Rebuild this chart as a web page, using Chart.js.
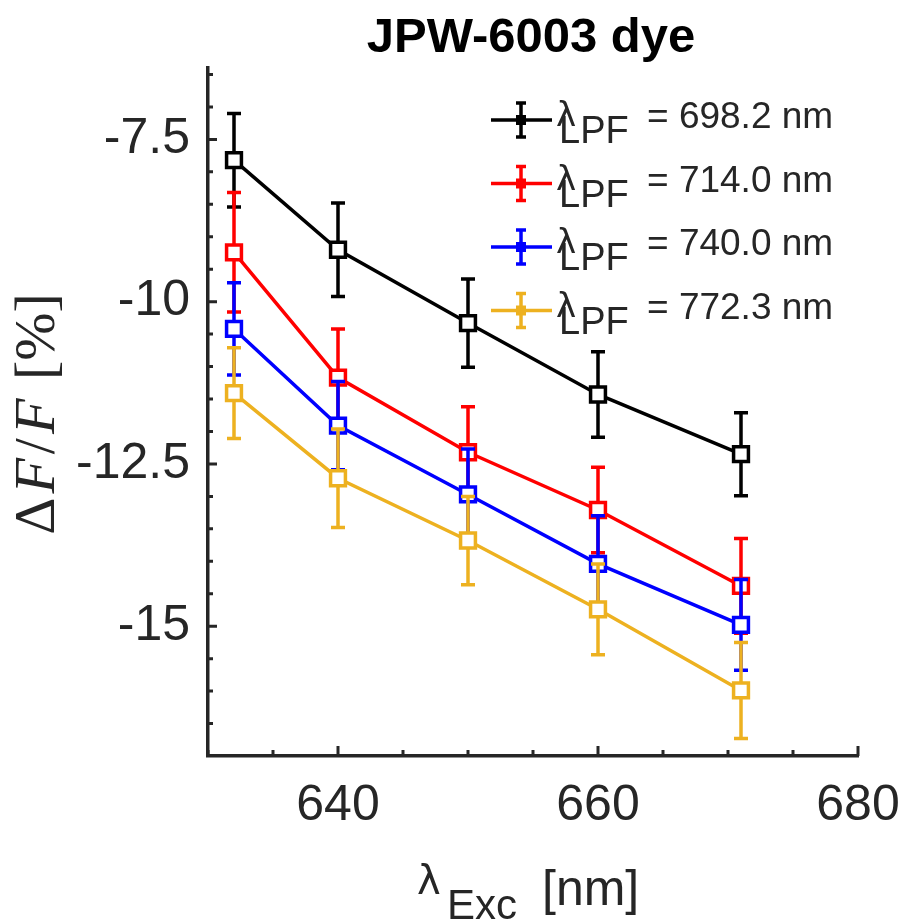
<!DOCTYPE html>
<html>
<head>
<meta charset="utf-8">
<script src="https://cdn.jsdelivr.net/npm/chart.js@4.4.1/dist/chart.umd.min.js"></script>
<style>
  html, body { margin: 0; padding: 0; background: #fff; }
</style>
</head>
<body>
<canvas id="chart" width="900" height="922"></canvas>
<script>
// excitation wavelengths (nm)
const excWavelengths = [632, 640, 650, 660, 671];

// dF/F (%) per long-pass filter, with error bar half-lengths
const lpf698 = [-7.82, -9.20, -10.33, -11.43, -12.35];
const lpf698Err = [0.72, 0.72, 0.68, 0.66, 0.64];
const lpf714 = [-9.24, -11.17, -12.32, -13.21, -14.38];
const lpf714Err = [0.92, 0.75, 0.70, 0.66, 0.73];
const lpf740 = [-10.42, -11.91, -12.97, -14.04, -14.98];
const lpf740Err = [0.71, 0.68, 0.70, 0.74, 0.70];
const lpf772 = [-11.41, -12.72, -13.68, -14.74, -15.99];
const lpf772Err = [0.70, 0.76, 0.68, 0.70, 0.74];

const legendValues = ['698.2', '714.0', '740.0', '772.3'];
const xTicks = [640, 660, 680];
const yTicks = [-15, -12.5, -10, -7.5];

const colors = ['#000000', '#ff0000', '#0000ff', '#edb120'];
const axisColor = '#262626';

const app = {};

app.makeDataset = (values, errors, i) => ({
    label: legendValues[i],
    data: values.map((v, k) => ({ x: excWavelengths[k], y: v })),
    errors: errors,
    borderColor: colors[i],
    backgroundColor: '#ffffff',
    borderWidth: 3.5,
    pointStyle: 'rect',
    pointRadius: 10.5,
    pointBorderWidth: 3.5,
    pointBackgroundColor: '#ffffff',
    tension: 0,
    // later series sit on top, like the original
    order: 4 - i
});

// vertical error bars, drawn under each series' line and markers
const errorBars = {
    id: 'errorBars',
    beforeDatasetDraw(chart, args) {
        const ds = chart.data.datasets[args.index];
        const ctx = chart.ctx;
        const xs = chart.scales.x;
        const ys = chart.scales.y;
        ctx.save();
        ctx.strokeStyle = ds.borderColor;
        ctx.lineWidth = 3.5;
        ds.data.forEach((p, k) => {
            const px = xs.getPixelForValue(p.x);
            const top = ys.getPixelForValue(p.y + ds.errors[k]);
            const bot = ys.getPixelForValue(p.y - ds.errors[k]);
            ctx.beginPath();
            ctx.moveTo(px, top);
            ctx.lineTo(px, bot);
            ctx.moveTo(px - 7, top);
            ctx.lineTo(px + 7, top);
            ctx.moveTo(px - 7, bot);
            ctx.lineTo(px + 7, bot);
            ctx.stroke();
        });
        ctx.restore();
    }
};

// inward tick marks, title, axis titles and legend
const decorations = {
    id: 'decorations',
    afterDraw(chart) {
        const ctx = chart.ctx;
        const xs = chart.scales.x;
        const ys = chart.scales.y;
        const area = chart.chartArea;

        ctx.save();
        ctx.strokeStyle = axisColor;
        ctx.lineWidth = 3;
        ctx.beginPath();
        for (let v = 630; v <= 680; v += 5) {
            const px = xs.getPixelForValue(v);
            const len = xTicks.includes(v) ? 10 : 6;
            ctx.moveTo(px, area.bottom);
            ctx.lineTo(px, area.bottom - len);
        }
        for (let v = -16.5; v <= -6.5; v += 0.5) {
            const py = ys.getPixelForValue(v);
            const len = yTicks.includes(v) ? 9 : 5;
            ctx.moveTo(area.left, py);
            ctx.lineTo(area.left + len, py);
        }
        ctx.stroke();

        // title
        ctx.fillStyle = '#000';
        ctx.font = 'bold 49px "Liberation Sans"';
        ctx.textAlign = 'center';
        ctx.textBaseline = 'alphabetic';
        ctx.fillText('JPW-6003 dye', 531, 52);

        // x title: lambda_Exc [nm]
        ctx.fillStyle = axisColor;
        ctx.textAlign = 'left';
        ctx.font = '40px "DejaVu Sans"';
        ctx.fillText('λ', 417, 894);
        ctx.font = '42px "Liberation Sans"';
        ctx.fillText('Exc', 447, 919);
        ctx.font = '50px "Liberation Sans"';
        ctx.fillText('[nm]', 542, 905);

        // y title: dF/F [%] in serif, rotated
        const parts = [
            ['Δ', 'normal'], ['F', 'italic'], ['/', 'normal'],
            ['F', 'italic'], [' [%]', 'normal']
        ];
        ctx.save();
        ctx.translate(54, 412);
        ctx.rotate(-Math.PI / 2);
        let total = 0;
        const widths = parts.map(([t, st]) => {
            ctx.font = st + ' 58px "Liberation Serif"';
            const w = ctx.measureText(t).width + 4;
            total += w;
            return w;
        });
        let cx = -total / 2;
        parts.forEach(([t, st], k) => {
            ctx.font = st + ' 58px "Liberation Serif"';
            ctx.fillText(t, cx, 0);
            cx += widths[k];
        });
        ctx.restore();

        // legend
        const rowY = [120, 183.5, 247, 310.5];
        chart.data.datasets.forEach((ds, i) => {
            const yc = rowY[i];
            ctx.strokeStyle = ds.borderColor;
            ctx.fillStyle = ds.borderColor;
            ctx.lineWidth = 3.5;
            ctx.beginPath();
            ctx.moveTo(491, yc);
            ctx.lineTo(552, yc);
            ctx.moveTo(521, yc - 17);
            ctx.lineTo(521, yc + 17);
            ctx.moveTo(516, yc - 17);
            ctx.lineTo(526, yc - 17);
            ctx.moveTo(516, yc + 17);
            ctx.lineTo(526, yc + 17);
            ctx.stroke();
            ctx.fillRect(516, yc - 5, 10, 10);

            ctx.fillStyle = axisColor;
            ctx.font = '34px "DejaVu Sans"';
            ctx.fillText('λ', 556, yc + 6);
            ctx.font = '38px "Liberation Sans"';
            ctx.fillText('LPF', 559, yc + 23);
            ctx.font = '37px "Liberation Sans"';
            ctx.fillText('= ' + ds.label + ' nm', 647, yc + 8);
        });
        ctx.restore();
    }
};

app.init = () => {
    const datasets = [
        app.makeDataset(lpf698, lpf698Err, 0),
        app.makeDataset(lpf714, lpf714Err, 1),
        app.makeDataset(lpf740, lpf740Err, 2),
        app.makeDataset(lpf772, lpf772Err, 3)
    ];

    const tickFont = { family: '"Liberation Sans"', size: 50 };

    new Chart(document.getElementById('chart'), {
        type: 'line',
        data: { datasets: datasets },
        options: {
            responsive: false,
            animation: false,
            layout: { padding: { top: 68, right: 42, left: 0, bottom: 0 } },
            plugins: {
                legend: { display: false },
                title: { display: false },
                tooltip: { enabled: false }
            },
            scales: {
                x: {
                    type: 'linear',
                    min: 630,
                    max: 680,
                    afterBuildTicks: (s) => { s.ticks = xTicks.map(v => ({ value: v })); },
                    afterFit: (s) => {
                        s.height = 166;
                        s.paddingLeft = 0;
                        s.paddingRight = 0;
                    },
                    grid: { display: false, drawTicks: false },
                    border: { display: true, color: axisColor, width: 3.5 },
                    ticks: {
                        font: tickFont,
                        color: axisColor,
                        padding: 20,
                        maxRotation: 0,
                        autoSkip: false,
                        callback: (v) => String(v)
                    }
                },
                y: {
                    type: 'linear',
                    min: -17,
                    max: -6.4,
                    afterBuildTicks: (s) => { s.ticks = yTicks.map(v => ({ value: v })); },
                    afterFit: (s) => {
                        s.width = 208;
                        s.paddingTop = 0;
                        s.paddingBottom = 0;
                    },
                    grid: { display: false, drawTicks: false },
                    border: { display: true, color: axisColor, width: 3.5 },
                    ticks: {
                        font: tickFont,
                        color: axisColor,
                        padding: 18,
                        autoSkip: false,
                        callback: (v) => String(v)
                    }
                }
            }
        },
        plugins: [errorBars, decorations]
    });
};

app.init();
</script>
</body>
</html>
